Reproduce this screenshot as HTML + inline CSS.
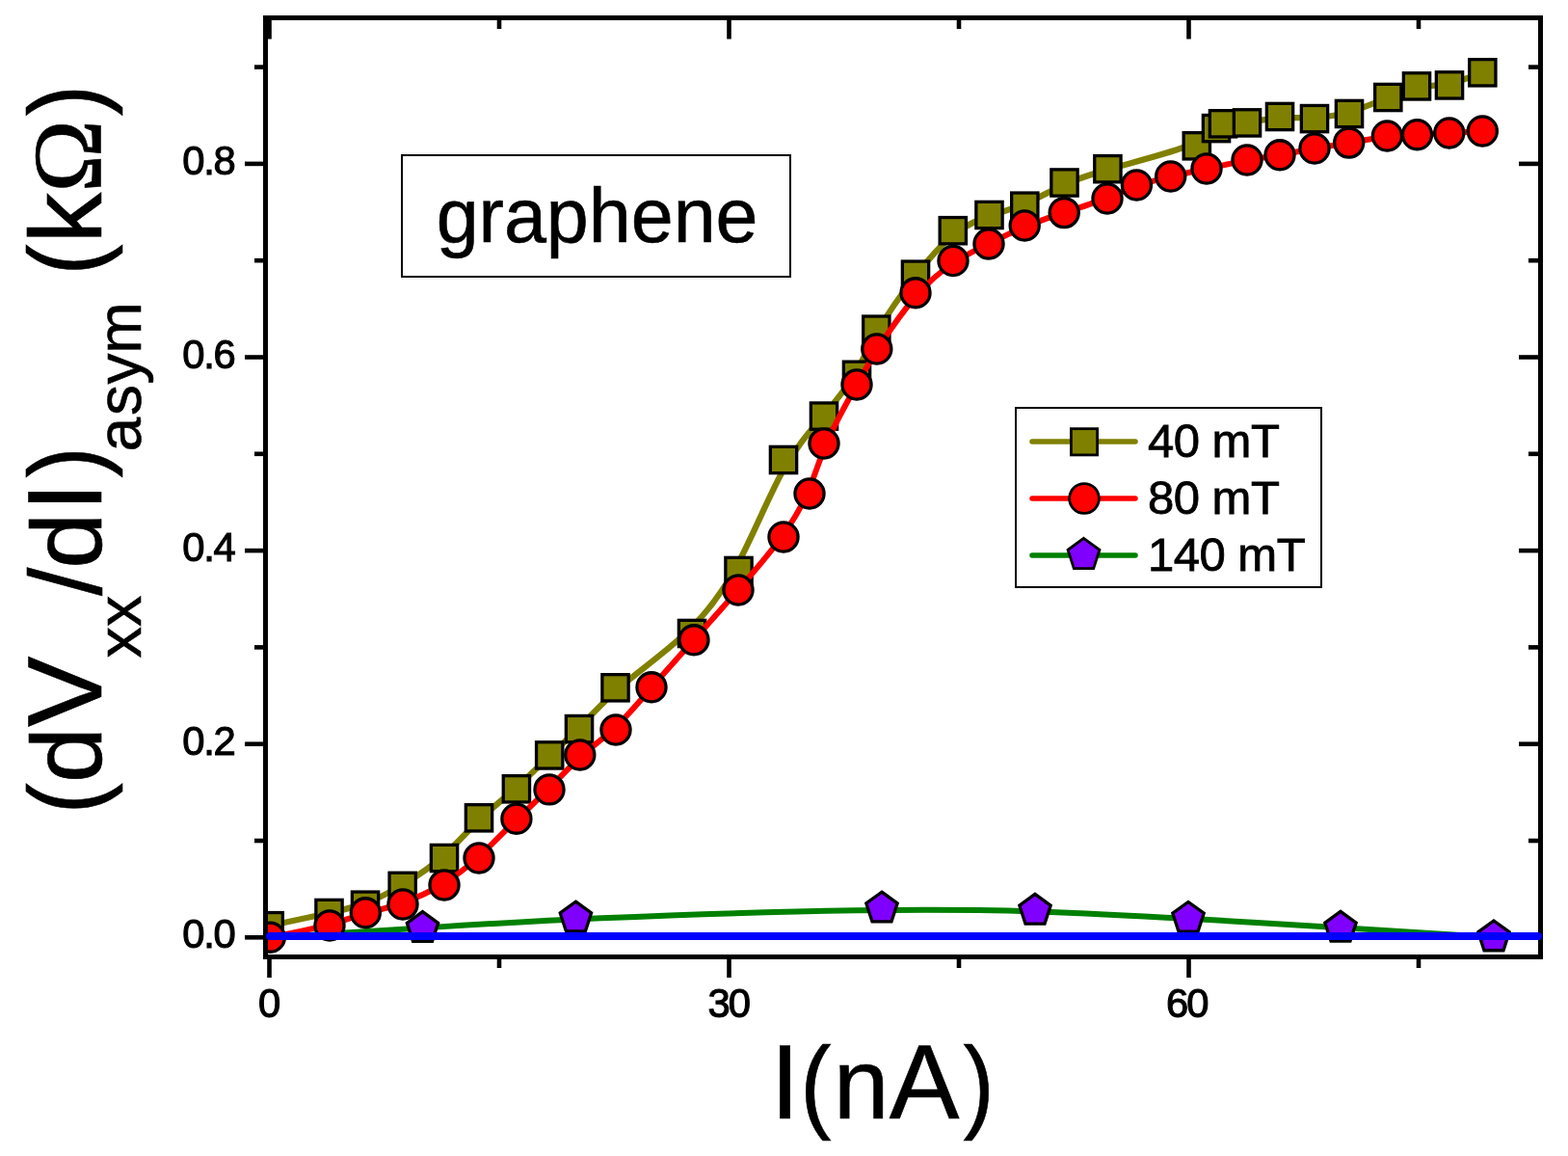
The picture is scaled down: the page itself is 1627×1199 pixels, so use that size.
<!DOCTYPE html><html><head><meta charset="utf-8"><style>html,body{margin:0;padding:0;background:#fff;}svg{display:block;}text{font-family:"Liberation Sans",Arial,sans-serif;}</style></head><body>
<svg width="1627" height="1199" viewBox="0 0 1627 1199">
<rect width="1627" height="1199" fill="#fff"/>
<defs><clipPath id="pa"><rect x="275.5" y="18.5" width="1323.0" height="974.0"/></clipPath></defs>
<g clip-path="url(#pa)">
<path d="M279.70,960.20 C279.70,960.20 279.70,960.20 290.00,958.00 C300.30,955.80 320.90,951.40 337.45,947.82 C354.00,944.23 366.50,941.47 379.20,936.78 C391.90,932.10 404.80,925.50 418.47,917.38 C432.13,909.27 446.57,899.63 459.78,887.87 C473.00,876.10 485.00,862.20 497.48,850.25 C509.97,838.30 522.93,828.30 535.13,817.48 C547.33,806.67 558.77,795.03 569.62,784.67 C580.47,774.30 590.73,765.20 602.12,753.52 C613.50,741.83 626.00,727.57 645.50,711.05 C665.00,694.53 691.50,675.77 712.83,655.55 C734.17,635.33 750.33,613.67 766.17,583.67 C782.00,553.67 797.50,515.33 812.25,488.60 C827.00,461.87 841.00,446.73 853.67,432.03 C866.33,417.33 877.67,403.07 886.72,388.08 C895.77,373.10 902.53,357.40 912.70,340.05 C922.87,322.70 936.43,303.70 949.68,286.62 C962.93,269.53 975.87,254.37 988.62,244.08 C1001.37,233.80 1013.93,228.40 1026.35,224.15 C1038.77,219.90 1051.03,216.80 1064.03,211.22 C1077.03,205.63 1090.77,197.57 1105.12,191.15 C1119.47,184.73 1134.43,179.97 1157.32,173.60 C1180.20,167.23 1211.00,159.27 1229.77,152.25 C1248.53,145.23 1255.27,139.17 1259.80,135.33 C1264.33,131.50 1266.67,129.90 1272.00,128.95 C1277.33,128.00 1285.67,127.70 1295.50,126.48 C1305.33,125.27 1316.67,123.13 1328.33,122.42 C1340.00,121.70 1352.00,122.40 1364.00,121.90 C1376.00,121.40 1388.00,119.70 1400.72,116.02 C1413.43,112.33 1426.87,106.67 1438.53,101.90 C1450.20,97.13 1460.10,93.27 1470.72,91.17 C1481.33,89.07 1492.67,88.73 1504.05,86.38 C1515.43,84.03 1526.87,79.67 1532.58,77.48 C1538.30,75.30 1538.30,75.30 1538.30,75.30" fill="none" stroke="#808000" stroke-width="6.3" stroke-linejoin="round" stroke-linecap="round"/>
<rect x="266.05" y="946.55" width="27.30" height="27.30" fill="#808000" stroke="#000" stroke-width="3.30"/>
<rect x="327.85" y="933.35" width="27.30" height="27.30" fill="#808000" stroke="#000" stroke-width="3.30"/>
<rect x="365.35" y="925.05" width="27.30" height="27.30" fill="#808000" stroke="#000" stroke-width="3.30"/>
<rect x="404.05" y="905.25" width="27.30" height="27.30" fill="#808000" stroke="#000" stroke-width="3.30"/>
<rect x="447.35" y="876.35" width="27.30" height="27.30" fill="#808000" stroke="#000" stroke-width="3.30"/>
<rect x="483.35" y="834.65" width="27.30" height="27.30" fill="#808000" stroke="#000" stroke-width="3.30"/>
<rect x="522.25" y="804.65" width="27.30" height="27.30" fill="#808000" stroke="#000" stroke-width="3.30"/>
<rect x="556.55" y="769.75" width="27.30" height="27.30" fill="#808000" stroke="#000" stroke-width="3.30"/>
<rect x="587.35" y="742.45" width="27.30" height="27.30" fill="#808000" stroke="#000" stroke-width="3.30"/>
<rect x="624.85" y="699.65" width="27.30" height="27.30" fill="#808000" stroke="#000" stroke-width="3.30"/>
<rect x="704.35" y="643.35" width="27.30" height="27.30" fill="#808000" stroke="#000" stroke-width="3.30"/>
<rect x="752.85" y="578.35" width="27.30" height="27.30" fill="#808000" stroke="#000" stroke-width="3.30"/>
<rect x="799.35" y="463.35" width="27.30" height="27.30" fill="#808000" stroke="#000" stroke-width="3.30"/>
<rect x="841.35" y="417.95" width="27.30" height="27.30" fill="#808000" stroke="#000" stroke-width="3.30"/>
<rect x="875.35" y="375.15" width="27.30" height="27.30" fill="#808000" stroke="#000" stroke-width="3.30"/>
<rect x="895.65" y="328.05" width="27.30" height="27.30" fill="#808000" stroke="#000" stroke-width="3.30"/>
<rect x="936.35" y="271.05" width="27.30" height="27.30" fill="#808000" stroke="#000" stroke-width="3.30"/>
<rect x="975.15" y="225.55" width="27.30" height="27.30" fill="#808000" stroke="#000" stroke-width="3.30"/>
<rect x="1012.85" y="209.35" width="27.30" height="27.30" fill="#808000" stroke="#000" stroke-width="3.30"/>
<rect x="1049.65" y="200.05" width="27.30" height="27.30" fill="#808000" stroke="#000" stroke-width="3.30"/>
<rect x="1090.85" y="175.85" width="27.30" height="27.30" fill="#808000" stroke="#000" stroke-width="3.30"/>
<rect x="1135.75" y="161.55" width="27.30" height="27.30" fill="#808000" stroke="#000" stroke-width="3.30"/>
<rect x="1228.15" y="137.65" width="27.30" height="27.30" fill="#808000" stroke="#000" stroke-width="3.30"/>
<rect x="1248.35" y="119.45" width="27.30" height="27.30" fill="#808000" stroke="#000" stroke-width="3.30"/>
<rect x="1255.35" y="114.65" width="27.30" height="27.30" fill="#808000" stroke="#000" stroke-width="3.30"/>
<rect x="1280.35" y="113.75" width="27.30" height="27.30" fill="#808000" stroke="#000" stroke-width="3.30"/>
<rect x="1314.35" y="107.35" width="27.30" height="27.30" fill="#808000" stroke="#000" stroke-width="3.30"/>
<rect x="1350.35" y="109.45" width="27.30" height="27.30" fill="#808000" stroke="#000" stroke-width="3.30"/>
<rect x="1386.35" y="104.35" width="27.30" height="27.30" fill="#808000" stroke="#000" stroke-width="3.30"/>
<rect x="1426.65" y="87.35" width="27.30" height="27.30" fill="#808000" stroke="#000" stroke-width="3.30"/>
<rect x="1456.35" y="75.75" width="27.30" height="27.30" fill="#808000" stroke="#000" stroke-width="3.30"/>
<rect x="1490.35" y="74.75" width="27.30" height="27.30" fill="#808000" stroke="#000" stroke-width="3.30"/>
<rect x="1524.65" y="61.65" width="27.30" height="27.30" fill="#808000" stroke="#000" stroke-width="3.30"/>
<path d="M279.50,972.30 C279.50,972.30 279.50,972.30 306.00,970.68 C332.50,969.07 385.50,965.83 438.48,962.48 C491.47,959.13 544.43,955.67 623.85,952.27 C703.27,948.87 809.13,945.53 888.57,944.23 C968.00,942.93 1021.00,943.67 1074.00,945.38 C1127.00,947.10 1180.00,949.80 1232.83,952.78 C1285.67,955.77 1338.33,959.03 1391.17,962.28 C1444.00,965.53 1497.00,968.77 1523.50,970.38 C1550.00,972.00 1550.00,972.00 1550.00,972.00" fill="none" stroke="#008000" stroke-width="6" stroke-linejoin="round" stroke-linecap="round"/>
<path d="M280.30,972.20 C280.30,972.20 280.30,972.20 290.58,970.17 C300.87,968.13 321.43,964.07 337.93,959.83 C354.43,955.60 366.87,951.20 379.53,947.53 C392.20,943.87 405.10,940.93 418.72,936.13 C432.33,931.33 446.67,924.67 459.83,916.67 C473.00,908.67 485.00,899.33 497.48,887.87 C509.97,876.40 522.93,862.80 535.10,850.95 C547.27,839.10 558.63,829.00 569.62,817.97 C580.60,806.93 591.20,794.97 602.70,784.65 C614.20,774.33 626.60,765.67 638.97,753.97 C651.33,742.27 663.67,727.53 677.17,712.00 C690.67,696.47 705.33,680.13 720.33,663.33 C735.33,646.53 750.67,629.27 766.17,611.47 C781.67,593.67 797.33,575.33 809.67,558.67 C822.00,542.00 831.00,527.00 838.00,510.83 C845.00,494.67 850.00,477.33 858.17,458.50 C866.33,439.67 877.67,419.33 886.80,403.00 C895.93,386.67 902.87,374.33 913.03,358.47 C923.20,342.60 936.60,323.20 949.80,307.95 C963.00,292.70 976.00,281.60 988.67,273.13 C1001.33,264.67 1013.67,258.83 1026.03,252.75 C1038.40,246.67 1050.80,240.33 1063.83,234.93 C1076.87,229.53 1090.53,225.07 1104.83,220.40 C1119.13,215.73 1134.07,210.87 1146.60,206.10 C1159.13,201.33 1169.27,196.67 1180.22,192.83 C1191.17,189.00 1202.93,186.00 1215.03,183.17 C1227.13,180.33 1239.57,177.67 1252.78,174.83 C1266.00,172.00 1280.00,169.00 1292.67,166.63 C1305.33,164.27 1316.67,162.53 1328.33,160.53 C1340.00,158.53 1352.00,156.27 1363.95,154.15 C1375.90,152.03 1387.80,150.07 1400.37,147.90 C1412.93,145.73 1426.17,143.37 1437.97,141.97 C1449.77,140.57 1460.13,140.13 1470.87,139.63 C1481.60,139.13 1492.70,138.57 1504.00,137.95 C1515.30,137.33 1526.80,136.67 1532.55,136.33 C1538.30,136.00 1538.30,136.00 1538.30,136.00" fill="none" stroke="#FF0000" stroke-width="6" stroke-linejoin="round" stroke-linecap="round"/>
<circle cx="280.30" cy="972.20" r="15.05" fill="#FF0000" stroke="#000" stroke-width="3.30"/>
<circle cx="342.00" cy="960.00" r="15.05" fill="#FF0000" stroke="#000" stroke-width="3.30"/>
<circle cx="379.30" cy="946.80" r="15.05" fill="#FF0000" stroke="#000" stroke-width="3.30"/>
<circle cx="418.00" cy="938.00" r="15.05" fill="#FF0000" stroke="#000" stroke-width="3.30"/>
<circle cx="461.00" cy="918.00" r="15.05" fill="#FF0000" stroke="#000" stroke-width="3.30"/>
<circle cx="497.00" cy="890.00" r="15.05" fill="#FF0000" stroke="#000" stroke-width="3.30"/>
<circle cx="535.90" cy="849.20" r="15.05" fill="#FF0000" stroke="#000" stroke-width="3.30"/>
<circle cx="570.00" cy="818.90" r="15.05" fill="#FF0000" stroke="#000" stroke-width="3.30"/>
<circle cx="601.80" cy="783.00" r="15.05" fill="#FF0000" stroke="#000" stroke-width="3.30"/>
<circle cx="639.00" cy="757.00" r="15.05" fill="#FF0000" stroke="#000" stroke-width="3.30"/>
<circle cx="676.00" cy="712.80" r="15.05" fill="#FF0000" stroke="#000" stroke-width="3.30"/>
<circle cx="720.00" cy="663.80" r="15.05" fill="#FF0000" stroke="#000" stroke-width="3.30"/>
<circle cx="766.00" cy="612.00" r="15.05" fill="#FF0000" stroke="#000" stroke-width="3.30"/>
<circle cx="813.00" cy="557.00" r="15.05" fill="#FF0000" stroke="#000" stroke-width="3.30"/>
<circle cx="840.00" cy="512.00" r="15.05" fill="#FF0000" stroke="#000" stroke-width="3.30"/>
<circle cx="855.00" cy="460.00" r="15.05" fill="#FF0000" stroke="#000" stroke-width="3.30"/>
<circle cx="889.00" cy="399.00" r="15.05" fill="#FF0000" stroke="#000" stroke-width="3.30"/>
<circle cx="909.80" cy="362.00" r="15.05" fill="#FF0000" stroke="#000" stroke-width="3.30"/>
<circle cx="950.00" cy="303.80" r="15.05" fill="#FF0000" stroke="#000" stroke-width="3.30"/>
<circle cx="989.00" cy="270.50" r="15.05" fill="#FF0000" stroke="#000" stroke-width="3.30"/>
<circle cx="1026.00" cy="253.00" r="15.05" fill="#FF0000" stroke="#000" stroke-width="3.30"/>
<circle cx="1063.20" cy="234.00" r="15.05" fill="#FF0000" stroke="#000" stroke-width="3.30"/>
<circle cx="1104.20" cy="220.60" r="15.05" fill="#FF0000" stroke="#000" stroke-width="3.30"/>
<circle cx="1149.00" cy="206.00" r="15.05" fill="#FF0000" stroke="#000" stroke-width="3.30"/>
<circle cx="1179.40" cy="192.00" r="15.05" fill="#FF0000" stroke="#000" stroke-width="3.30"/>
<circle cx="1214.70" cy="183.00" r="15.05" fill="#FF0000" stroke="#000" stroke-width="3.30"/>
<circle cx="1252.00" cy="175.00" r="15.05" fill="#FF0000" stroke="#000" stroke-width="3.30"/>
<circle cx="1294.00" cy="166.00" r="15.05" fill="#FF0000" stroke="#000" stroke-width="3.30"/>
<circle cx="1328.00" cy="160.80" r="15.05" fill="#FF0000" stroke="#000" stroke-width="3.30"/>
<circle cx="1364.00" cy="154.00" r="15.05" fill="#FF0000" stroke="#000" stroke-width="3.30"/>
<circle cx="1399.70" cy="148.10" r="15.05" fill="#FF0000" stroke="#000" stroke-width="3.30"/>
<circle cx="1439.40" cy="141.00" r="15.05" fill="#FF0000" stroke="#000" stroke-width="3.30"/>
<circle cx="1470.50" cy="139.70" r="15.05" fill="#FF0000" stroke="#000" stroke-width="3.30"/>
<circle cx="1503.80" cy="138.00" r="15.05" fill="#FF0000" stroke="#000" stroke-width="3.30"/>
<circle cx="1538.30" cy="136.00" r="15.05" fill="#FF0000" stroke="#000" stroke-width="3.30"/>
<polygon points="438.50,945.60 454.67,957.35 448.49,976.35 428.51,976.35 422.33,957.35" fill="#8000FF" stroke="#000" stroke-width="3.30" stroke-linejoin="miter"/>
<polygon points="597.40,935.20 613.57,946.95 607.39,965.95 587.41,965.95 581.23,946.95" fill="#8000FF" stroke="#000" stroke-width="3.30" stroke-linejoin="miter"/>
<polygon points="915.00,925.20 931.17,936.95 924.99,955.95 905.01,955.95 898.83,936.95" fill="#8000FF" stroke="#000" stroke-width="3.30" stroke-linejoin="miter"/>
<polygon points="1074.00,927.40 1090.17,939.15 1083.99,958.15 1064.01,958.15 1057.83,939.15" fill="#8000FF" stroke="#000" stroke-width="3.30" stroke-linejoin="miter"/>
<polygon points="1233.00,935.50 1249.17,947.25 1242.99,966.25 1223.01,966.25 1216.83,947.25" fill="#8000FF" stroke="#000" stroke-width="3.30" stroke-linejoin="miter"/>
<polygon points="1391.00,945.30 1407.17,957.05 1400.99,976.05 1381.01,976.05 1374.83,957.05" fill="#8000FF" stroke="#000" stroke-width="3.30" stroke-linejoin="miter"/>
<polygon points="1550.00,955.00 1566.17,966.75 1559.99,985.75 1540.01,985.75 1533.83,966.75" fill="#8000FF" stroke="#000" stroke-width="3.30" stroke-linejoin="miter"/>
</g>
<rect x="275.5" y="18.5" width="1323.0" height="974.0" fill="none" stroke="#000" stroke-width="5"/>
<line x1="279.50" y1="992.50" x2="279.50" y2="1014.00" stroke="#000" stroke-width="4.6"/>
<line x1="279.50" y1="18.50" x2="279.50" y2="40.50" stroke="#000" stroke-width="4.6"/>
<line x1="756.50" y1="992.50" x2="756.50" y2="1014.00" stroke="#000" stroke-width="4.6"/>
<line x1="756.50" y1="18.50" x2="756.50" y2="40.50" stroke="#000" stroke-width="4.6"/>
<line x1="1233.50" y1="992.50" x2="1233.50" y2="1014.00" stroke="#000" stroke-width="4.6"/>
<line x1="1233.50" y1="18.50" x2="1233.50" y2="40.50" stroke="#000" stroke-width="4.6"/>
<line x1="518.00" y1="992.50" x2="518.00" y2="1004.00" stroke="#000" stroke-width="4.6"/>
<line x1="518.00" y1="18.50" x2="518.00" y2="30.00" stroke="#000" stroke-width="4.6"/>
<line x1="995.00" y1="992.50" x2="995.00" y2="1004.00" stroke="#000" stroke-width="4.6"/>
<line x1="995.00" y1="18.50" x2="995.00" y2="30.00" stroke="#000" stroke-width="4.6"/>
<line x1="1472.00" y1="992.50" x2="1472.00" y2="1004.00" stroke="#000" stroke-width="4.6"/>
<line x1="1472.00" y1="18.50" x2="1472.00" y2="30.00" stroke="#000" stroke-width="4.6"/>
<line x1="275.50" y1="972.30" x2="254.00" y2="972.30" stroke="#000" stroke-width="4.6"/>
<line x1="1598.50" y1="972.30" x2="1576.00" y2="972.30" stroke="#000" stroke-width="4.6"/>
<line x1="275.50" y1="771.70" x2="254.00" y2="771.70" stroke="#000" stroke-width="4.6"/>
<line x1="1598.50" y1="771.70" x2="1576.00" y2="771.70" stroke="#000" stroke-width="4.6"/>
<line x1="275.50" y1="571.10" x2="254.00" y2="571.10" stroke="#000" stroke-width="4.6"/>
<line x1="1598.50" y1="571.10" x2="1576.00" y2="571.10" stroke="#000" stroke-width="4.6"/>
<line x1="275.50" y1="370.50" x2="254.00" y2="370.50" stroke="#000" stroke-width="4.6"/>
<line x1="1598.50" y1="370.50" x2="1576.00" y2="370.50" stroke="#000" stroke-width="4.6"/>
<line x1="275.50" y1="169.90" x2="254.00" y2="169.90" stroke="#000" stroke-width="4.6"/>
<line x1="1598.50" y1="169.90" x2="1576.00" y2="169.90" stroke="#000" stroke-width="4.6"/>
<line x1="275.50" y1="872.00" x2="264.00" y2="872.00" stroke="#000" stroke-width="4.6"/>
<line x1="1598.50" y1="872.00" x2="1586.00" y2="872.00" stroke="#000" stroke-width="4.6"/>
<line x1="275.50" y1="671.40" x2="264.00" y2="671.40" stroke="#000" stroke-width="4.6"/>
<line x1="1598.50" y1="671.40" x2="1586.00" y2="671.40" stroke="#000" stroke-width="4.6"/>
<line x1="275.50" y1="470.80" x2="264.00" y2="470.80" stroke="#000" stroke-width="4.6"/>
<line x1="1598.50" y1="470.80" x2="1586.00" y2="470.80" stroke="#000" stroke-width="4.6"/>
<line x1="275.50" y1="270.20" x2="264.00" y2="270.20" stroke="#000" stroke-width="4.6"/>
<line x1="1598.50" y1="270.20" x2="1586.00" y2="270.20" stroke="#000" stroke-width="4.6"/>
<line x1="275.50" y1="69.60" x2="264.00" y2="69.60" stroke="#000" stroke-width="4.6"/>
<line x1="1598.50" y1="69.60" x2="1586.00" y2="69.60" stroke="#000" stroke-width="4.6"/>
<line x1="280" y1="971" x2="1596" y2="971" stroke="#0000FF" stroke-width="8" stroke-linecap="round"/>
<text x="243.50" y="983.30" font-size="41.8" text-anchor="end" stroke="#000" stroke-width="1.1" letter-spacing="-1.3">0.0</text>
<text x="243.50" y="782.70" font-size="41.8" text-anchor="end" stroke="#000" stroke-width="1.1" letter-spacing="-1.3">0.2</text>
<text x="243.50" y="582.10" font-size="41.8" text-anchor="end" stroke="#000" stroke-width="1.1" letter-spacing="-1.3">0.4</text>
<text x="243.50" y="381.50" font-size="41.8" text-anchor="end" stroke="#000" stroke-width="1.1" letter-spacing="-1.3">0.6</text>
<text x="243.50" y="180.90" font-size="41.8" text-anchor="end" stroke="#000" stroke-width="1.1" letter-spacing="-1.3">0.8</text>
<text x="278.70" y="1055.30" font-size="41.8" text-anchor="middle" stroke="#000" stroke-width="1.1" letter-spacing="-2.0">0</text>
<text x="755.70" y="1055.30" font-size="41.8" text-anchor="middle" stroke="#000" stroke-width="1.1" letter-spacing="-2.0">30</text>
<text x="1231.20" y="1055.30" font-size="41.8" text-anchor="middle" stroke="#000" stroke-width="1.1" letter-spacing="-2.0">60</text>
<text transform="translate(814.40,1159.80) scale(1.000,1)" x="-15.28" font-size="110" stroke="#000" stroke-width="0.6">I</text>
<text transform="translate(849.10,1160.60) scale(0.900,1)" x="-20.92" font-size="107.5" stroke="#000" stroke-width="0.6">(</text>
<text transform="translate(893.85,1159.80) scale(1.000,1)" x="-29.00" font-size="104" stroke="#000" stroke-width="0.6">n</text>
<text transform="translate(959.00,1159.80) scale(1.000,1)" x="-36.35" font-size="109" stroke="#000" stroke-width="0.6">A</text>
<text transform="translate(1012.80,1160.60) scale(0.900,1)" x="-14.88" font-size="107.5" stroke="#000" stroke-width="0.6">)</text>
<text transform="translate(105.00,825.50) rotate(-90) scale(0.900,1)" x="-20.92" font-size="107.5" stroke="#000" stroke-width="0.6">(</text>
<text transform="translate(105.00,784.15) rotate(-90) scale(1.000,1)" x="-27.75" font-size="104" stroke="#000" stroke-width="0.6">d</text>
<text transform="translate(105.00,717.25) rotate(-90) scale(1.000,1)" x="-36.68" font-size="110" stroke="#000" stroke-width="0.6">V</text>
<text transform="translate(146.00,666.45) rotate(-90) scale(1.000,1)" x="-16.14" font-size="64.5" stroke="#000" stroke-width="0.6">x</text>
<text transform="translate(146.00,633.95) rotate(-90) scale(1.000,1)" x="-16.14" font-size="64.5" stroke="#000" stroke-width="0.6">x</text>
<text transform="translate(105.00,603.25) rotate(-90) scale(1.000,1)" x="-14.73" font-size="106" stroke="#000" stroke-width="0.6">/</text>
<text transform="translate(105.00,562.00) rotate(-90) scale(1.000,1)" x="-27.75" font-size="104" stroke="#000" stroke-width="0.6">d</text>
<text transform="translate(105.00,515.40) rotate(-90) scale(1.000,1)" x="-15.28" font-size="110" stroke="#000" stroke-width="0.6">I</text>
<text transform="translate(105.00,482.20) rotate(-90) scale(0.900,1)" x="-14.88" font-size="107.5" stroke="#000" stroke-width="0.6">)</text>
<text transform="translate(146.00,449.30) rotate(-90) scale(1.000,1)" x="-19.16" font-size="64" stroke="#000" stroke-width="0.6">a</text>
<text transform="translate(146.00,415.35) rotate(-90) scale(1.000,1)" x="-15.73" font-size="64" stroke="#000" stroke-width="0.6">s</text>
<text transform="translate(146.00,382.50) rotate(-90) scale(1.000,1)" x="-16.02" font-size="64" stroke="#000" stroke-width="0.6">y</text>
<text transform="translate(146.00,340.20) rotate(-90) scale(1.000,1)" x="-26.67" font-size="64" stroke="#000" stroke-width="0.6">m</text>
<text transform="translate(105.00,266.60) rotate(-90) scale(0.900,1)" x="-20.92" font-size="107.5" stroke="#000" stroke-width="0.6">(</text>
<text transform="translate(105.00,222.30) rotate(-90) scale(1.000,1)" x="-29.86" font-size="105" stroke="#000" stroke-width="0.6">k</text>
<text transform="translate(105.00,161.85) rotate(-90) scale(1.000,1)" x="-37.90" font-size="102" style="font-family:'Liberation Serif',serif" stroke="#000" stroke-width="0.6">&#937;</text>
<text transform="translate(105.00,106.90) rotate(-90) scale(0.900,1)" x="-14.88" font-size="107.5" stroke="#000" stroke-width="0.6">)</text>
<rect x="417" y="161" width="403" height="126" fill="#fff" stroke="#000" stroke-width="2"/>
<text x="452.7" y="251.4" font-size="79" stroke="#000" stroke-width="0.6">graphene</text>
<rect x="1054" y="423" width="317" height="186" fill="#fff" stroke="#000" stroke-width="2"/>
<line x1="1071" y1="458" x2="1178" y2="458" stroke="#808000" stroke-width="5.5" stroke-linecap="round"/>
<rect x="1111.40" y="444.70" width="27.20" height="27.20" fill="#808000" stroke="#000" stroke-width="2.80"/>
<line x1="1071" y1="517" x2="1178" y2="517" stroke="#FF0000" stroke-width="5.5" stroke-linecap="round"/>
<circle cx="1125.00" cy="517.00" r="15.40" fill="#FF0000" stroke="#000" stroke-width="2.80"/>
<line x1="1071" y1="576" x2="1178" y2="576" stroke="#008000" stroke-width="5.5" stroke-linecap="round"/>
<polygon points="1124.50,558.30 1140.95,570.25 1134.67,589.60 1114.33,589.60 1108.05,570.25" fill="#8000FF" stroke="#000" stroke-width="2.80" stroke-linejoin="miter"/>
<text x="1191.00" y="473.5" font-size="49" stroke="#000" stroke-width="0.8" letter-spacing="-0.5">40 mT</text>
<text x="1191.00" y="533" font-size="49" stroke="#000" stroke-width="0.8" letter-spacing="-0.5">80 mT</text>
<text x="1191.00" y="592" font-size="49" stroke="#000" stroke-width="0.8" letter-spacing="-0.5">140 mT</text>
</svg></body></html>
